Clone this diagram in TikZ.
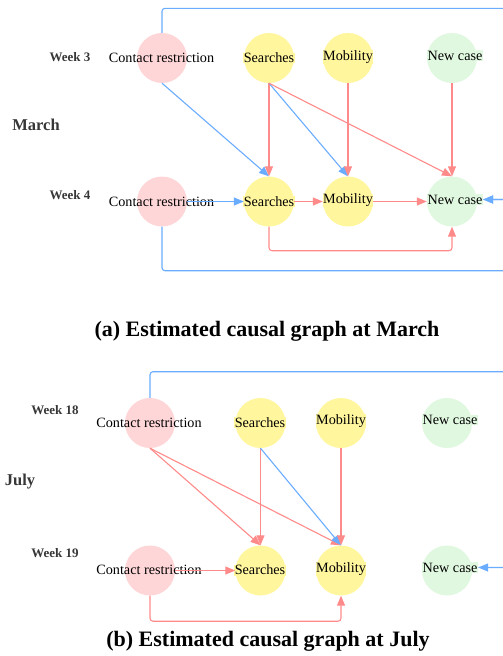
\documentclass[tikz,border=0pt]{standalone}
\usepackage{fontspec}
\setmainfont{Liberation Serif}
\usetikzlibrary{arrows.meta}
\definecolor{redl}{RGB}{255,138,138}
\definecolor{bluel}{RGB}{106,172,255}
\definecolor{pinkf}{RGB}{255,214,216}
\definecolor{yelf}{RGB}{255,246,158}
\definecolor{grnf}{RGB}{224,248,224}
\definecolor{wkgray}{RGB}{55,55,55}
\begin{document}
\begin{tikzpicture}[x=1pt,y=-1pt,
  vnode/.style={circle,minimum size=50pt,inner sep=0pt},
  crc/.style={vnode,fill=pinkf},
  src/.style={vnode,fill=yelf},
  ncc/.style={vnode,fill=grnf},
  lbl/.style={font=\fontsize{14.2}{16}\selectfont,inner sep=0.5pt},
  wk/.style={font=\fontsize{13}{15}\selectfont\bfseries,text=wkgray},
  mon/.style={font=\fontsize{16.5}{18}\selectfont\bfseries,text=wkgray},
  captxt/.style={font=\fontsize{22}{24}\selectfont\bfseries},
  redarr/.style={draw=redl,line width=1.1pt,-{Triangle[length=10pt,width=8pt]}},
  bluearr/.style={draw=bluel,line width=1.1pt,-{Triangle[length=10pt,width=8pt]}},
  rc/.style={rounded corners=3pt}
]
\useasboundingbox (0,0) rectangle (503,656);
\clip (0,0) rectangle (503,656);

% ---------- panel (a) ----------
\node[wk] (aw3) at (70,57) {Week 3};
\node[wk] (aw4) at (70,195) {Week 4};
\node[mon] (amar) at (36,125) {March};

\node[crc] (a3c) at (162,58) {};
\node[src] (a3s) at (269,58) {};
\node[src] (a3m) at (348,58) {};
\node[ncc] (a3n) at (452,58) {};
\node[crc] (a4c) at (162,201.5) {};
\node[src] (a4s) at (269,201.5) {};
\node[src] (a4m) at (348,201.5) {};
\node[ncc] (a4n) at (452,201.5) {};

\node[lbl] (a3ct) at (161.5,58) {Contact restriction};
\node[lbl,fill=yelf] (a3st) at (269,58) {Searches};
\node[lbl,fill=yelf] (a3mt) at (348,57) {Mobility};
\node[lbl,fill=grnf] (a3nt) at (455,55.5) {New case};
\node[lbl] (a4ct) at (161.5,202) {Contact restriction};
\node[lbl,fill=yelf] (a4st) at (269,201.5) {Searches};
\node[lbl,fill=yelf] (a4mt) at (348,200.5) {Mobility};
\node[lbl,fill=grnf] (a4nt) at (455,199.5) {New case};

\coordinate (arA) at (520,8.3);
\coordinate (arB) at (520,270.7);
\draw[bluearr,rc] (a3c.north) |- (arA) |- (a4nt.east);
\draw[bluearr,rc] (a4c.south) |- (arB) |- (a4nt.east);
\draw[bluearr] (a3c.south) -- (a4s.north);
\draw[redarr] (a3s.south) -- (a4s.north);
\draw[bluearr] (a3s.south) -- (a4m.north);
\draw[redarr] (a3s.south) -- (a4n.north);
\draw[redarr] (a3m.south) -- (a4m.north);
\draw[redarr] (a3n.south) -- (a4n.north);
\draw[bluearr] (a4c.east) -- (a4s.west);
\draw[redarr] (a4s.east) -- (a4m.west);
\draw[redarr] (a4m.east) -- (a4n.west);
\draw[redarr,rc] (a4s.south) -- ++(0,24) -| (a4n.south);

\node[captxt] (capa) at (267,331) {(a) Estimated causal graph at March};

% ---------- panel (b) ----------
\node[wk] (bw18) at (55,410) {Week 18};
\node[wk] (bw19) at (55,553) {Week 19};
\node[mon] (bjul) at (20,482) {July};

\node[crc] (b18c) at (150,423) {};
\node[src] (b18s) at (260.5,423) {};
\node[src] (b18m) at (341,423) {};
\node[ncc] (b18n) at (447,423) {};
\node[crc] (b19c) at (150,570.5) {};
\node[src] (b19s) at (260.5,570.5) {};
\node[src] (b19m) at (341,570.5) {};
\node[ncc] (b19n) at (447,570.5) {};

\node[lbl] (b18ct) at (149,422.5) {Contact restriction};
\node[lbl,fill=yelf] (b18st) at (260,422.5) {Searches};
\node[lbl,fill=yelf] (b18mt) at (341,421) {Mobility};
\node[lbl,fill=grnf] (b18nt) at (450,420) {New case};
\node[lbl] (b19ct) at (149,570) {Contact restriction};
\node[lbl,fill=yelf] (b19st) at (260,570) {Searches};
\node[lbl,fill=yelf] (b19mt) at (341,569) {Mobility};
\node[lbl,fill=grnf] (b19nt) at (450,567.5) {New case};

\coordinate (brA) at (520,371.7);
\draw[bluearr,rc] (b18c.north) |- (brA) |- (b19nt.east);
\draw[redarr] (b18c.south) -- (b19s.north);
\draw[redarr] (b18c.south) -- (b19m.north);
\draw[redarr] (b18s.south) -- (b19s.north);
\draw[bluearr] (b18s.south) -- (b19m.north);
\draw[redarr] (b18m.south) -- (b19m.north);
\draw[redarr] (b19c.east) -- (b19s.west);
\draw[redarr,rc] (b19c.south) -- ++(0,25.5) -| (b19m.south);

\node[captxt] (capb) at (268,641) {(b) Estimated causal graph at July};
\end{tikzpicture}
\end{document}
